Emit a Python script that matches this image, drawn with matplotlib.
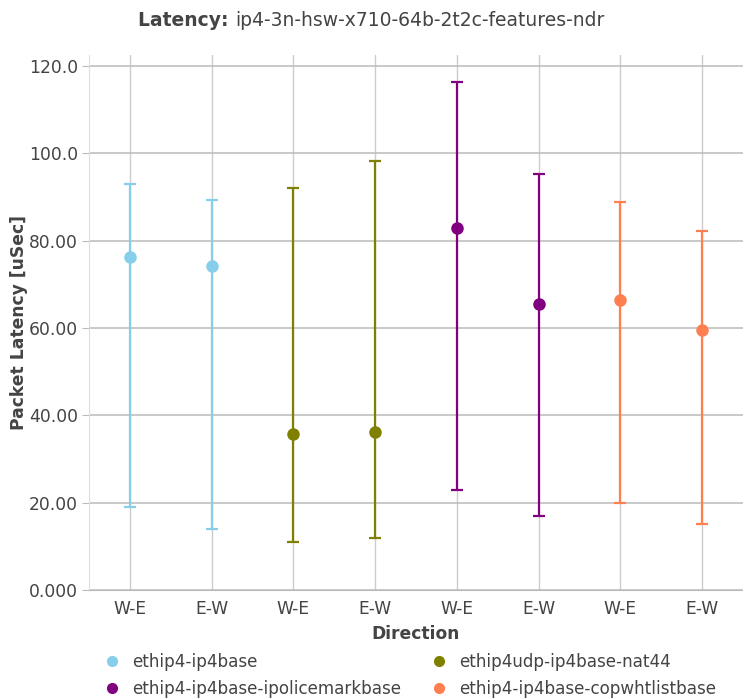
import numpy as np
import matplotlib
matplotlib.use("Agg")
import matplotlib.pyplot as plt
from matplotlib.lines import Line2D

# data
directions = ["W-E", "E-W", "W-E", "E-W", "W-E", "E-W", "W-E", "E-W"]
series_names = ["ethip4-ip4base", "ethip4udp-ip4base-nat44",
                "ethip4-ip4base-ipolicemarkbase", "ethip4-ip4base-copwhtlistbase"]
series_colors = ["#87ceeb", "#808000", "#800080", "#ff7f50"]
avg_lat = [[76.2, 74.1], [35.8, 36.2], [83.0, 65.6], [66.5, 59.6]]
max_lat = [[93.0, 89.2], [92.0, 98.3], [116.4, 95.3], [88.8, 82.2]]
min_lat = [[19.0, 14.0], [11.0, 12.0], [23.0, 17.0], [20.0, 15.0]]
y_ticks = [0, 20, 40, 60, 80, 100, 120]
y_tick_labels = ["0.000", "20.00", "40.00", "60.00", "80.00", "100.0", "120.0"]

txt = "#444444"
fs = 12.3
plt.rcParams['font.family'] = ['DejaVu Sans']

fig = plt.figure(figsize=(7.43, 7.00), dpi=100)
ax = fig.add_axes([89/743, 1 - 590/700, (743 - 89)/743, (590 - 55)/700])

x = np.arange(len(directions))
for i, name in enumerate(series_names):
    xs = x[2*i:2*i+2]
    avg = np.array(avg_lat[i])
    lo = avg - np.array(min_lat[i])
    hi = np.array(max_lat[i]) - avg
    ax.errorbar(xs, avg, yerr=[lo, hi], fmt="o", color=series_colors[i],
                ecolor=series_colors[i], elinewidth=1.6, capsize=4,
                capthick=1.6, markersize=8, zorder=3)

ax.set_xlim(-0.5, len(directions) - 0.5)
ax.set_ylim(0, 122.5)
ax.set_xticks(x)
ax.set_xticklabels(directions)
ax.set_yticks(y_ticks)
ax.set_yticklabels(y_tick_labels)
ax.tick_params(axis="both", labelsize=fs, colors=txt)
ax.tick_params(axis="x", length=0, pad=7)
ax.tick_params(axis="y", length=5, color="#bbbbbb", pad=3)

ax.grid(axis="y", color="#bbbbbb", linewidth=1.1, zorder=0)
ax.grid(axis="x", color="#cccccc", linewidth=1.0, zorder=0)
for s in ["top", "right"]:
    ax.spines[s].set_visible(False)
ax.spines["left"].set_color("#dddddd")
ax.spines["bottom"].set_color("#bbbbbb")

ax.set_xlabel("Direction", fontsize=fs, fontweight="bold", color=txt, labelpad=5)
ax.set_ylabel("Packet Latency [uSec]", fontsize=fs, fontweight="bold", color=txt)
ax.yaxis.set_label_coords(-61/654, 0.5)

# title: bold prefix + normal rest, centred together
ty = 1 - 20/700
t1 = fig.text(0, ty, "Latency: ", fontsize=13.5, fontweight="bold", color=txt, va="center")
t2 = fig.text(0, ty, "ip4-3n-hsw-x710-64b-2t2c-features-ndr", fontsize=13.5,
              color=txt, va="center")
r = fig.canvas.get_renderer()
w1 = t1.get_window_extent(r).width / fig.bbox.width
w2 = t2.get_window_extent(r).width / fig.bbox.width
x0 = 0.5 - (w1 + w2) / 2
t1.set_x(x0)
t2.set_x(x0 + w1)

handles = [Line2D([], [], marker="o", linestyle="none", color=c, markersize=7)
           for c in series_colors]
order = [0, 2, 1, 3]
fig.legend([handles[k] for k in order], [series_names[k] for k in order],
           ncol=2, loc="upper left", bbox_to_anchor=(95/743, 1 - 646/700),
           frameon=False, fontsize=12.1, labelcolor=txt, handletextpad=0.6,
           columnspacing=1.65, labelspacing=0.55, handlelength=1.2, borderaxespad=0)

fig.savefig("out.png", dpi=100)
